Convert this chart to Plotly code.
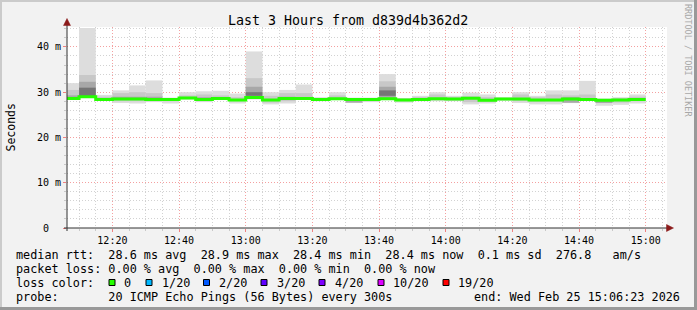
import plotly.graph_objects as go
import pandas as pd
import numpy as np

# ---------------- data ----------------
day = "2026-02-25 "
step_start = ["12:05", "12:10", "12:15", "12:20", "12:25", "12:30", "12:35", "12:40", "12:45",
              "12:50", "12:55", "13:00", "13:05", "13:10", "13:15", "13:20", "13:25", "13:30",
              "13:35", "13:40", "13:45", "13:50", "13:55", "14:00", "14:05", "14:10", "14:15",
              "14:20", "14:25", "14:30", "14:35", "14:40", "14:45", "14:50", "14:55"]

# smoke bands (ms): outermost (min..max) to innermost
band1_hi = [32.0, 44.2, 29.4, 30.4, 31.5, 32.6, 28.8, 30.0, 30.2, 30.3, 29.7, 39.0, 30.0, 30.5, 31.7, 28.9, 30.0, 28.8,
            28.8, 34.0, 28.7, 29.2, 30.0, 29.2, 29.9, 29.5, 28.9, 30.0, 29.2, 30.4, 30.4, 32.5, 28.6, 28.9, 29.5]
band1_lo = [28.3, 28.8, 28.1, 27.6, 27.5, 27.8, 27.5, 28.4, 27.8, 28.4, 27.5, 28.4, 27.3, 27.5, 28.4, 28.0, 28.4, 27.6,
            27.8, 28.4, 27.7, 28.0, 28.0, 28.0, 27.3, 27.5, 28.1, 27.6, 27.3, 27.3, 27.6, 28.4, 27.0, 27.2, 27.5]
band2_hi = [30.5, 33.8, 29.0, 29.8, 30.0, 29.8, 28.7, 29.3, 29.5, 29.3, 28.9, 33.1, 29.2, 29.8, 29.8, 28.7, 29.3, 28.6,
            28.6, 32.4, 28.6, 28.9, 29.5, 28.9, 29.1, 28.9, 28.7, 29.5, 28.9, 29.5, 29.3, 29.5, 28.3, 28.7, 29.0]
band2_lo = [28.4, 28.9, 28.3, 28.0, 28.0, 28.0, 28.0, 28.5, 28.0, 28.5, 28.0, 28.5, 27.7, 28.0, 28.5, 28.2, 28.5, 27.8,
            28.0, 28.5, 28.0, 28.2, 28.3, 28.2, 27.8, 27.9, 28.3, 28.0, 27.8, 27.9, 27.6, 28.5, 27.6, 27.7, 28.0]
band3_hi = [29.3, 32.3, None, 29.0, 29.0, 29.0, None, None, 28.9, None, None, 31.2, None, 29.0, None, None, None, 28.4,
            None, 31.2, None, None, None, None, None, None, None, None, None, None, 28.9, None, 28.0, None, None]
band3_lo = [28.5, 28.9, None, 28.3, 28.3, 28.3, None, None, 28.2, None, None, 28.6, None, 28.3, None, None, None, 27.7,
            None, 28.6, None, None, None, None, None, None, None, None, None, None, 27.7, None, 27.7, None, None]
band4_hi = [None, 31.0, None, None, None, None, None, None, None, None, None, 30.0, None, None, None, None, None, None,
            None, 30.4, None, None, None, None, None, None, None, None, None, None, None, None, None, None, None]
band4_lo = [None, 29.1, None, None, None, None, None, None, None, None, None, 29.2, None, None, None, None, None, None,
            None, 29.2, None, None, None, None, None, None, None, None, None, None, None, None, None, None, None]

median_rtt = [28.6, 29.0, 28.4, 28.5, 28.5, 28.4, 28.4, 28.7, 28.4, 28.6, 28.3, 28.8, 28.3, 28.6, 28.6, 28.4, 28.55, 28.4,
              28.4, 28.55, 28.3, 28.4, 28.55, 28.5, 28.65, 28.2, 28.5, 28.5, 28.3, 28.3, 28.5, 28.4, 28.2, 28.3, 28.4]

x_tick_labels = ["12:20", "12:40", "13:00", "13:20", "13:40", "14:00", "14:20", "14:40", "15:00"]
y_tick_vals = [0, 10, 20, 30, 40]
y_tick_text = ["0\u00a0\u00a0", "10 m", "20 m", "30 m", "40 m"]

loss_labels = ["0", "1/20", "2/20", "3/20", "4/20", "10/20", "19/20"]
loss_colors = ["#26ff00", "#00b8ff", "#0059ff", "#5e00ff", "#7e00ff", "#dd00ff", "#ff0000"]

x_start = day + "12:06:23"
x_end = day + "15:06:23"

# ---------------- figure ----------------
W, H = 697, 310
L, R, T, B = 67, 667, 27, 228   # plot area in pixels
def px(x):
    return (x - L) / (R - L)
def py(y):
    return (B - y) / (B - T)

times = pd.to_datetime([day + t for t in step_start])
STEP_MS = 300000

def arr(v):
    return np.array([np.nan if a is None else a for a in v], dtype=float)

fig = go.Figure()
bands = [(band1_lo, band1_hi, "#dddddd"), (band2_lo, band2_hi, "#c8c8c8"),
         (band3_lo, band3_hi, "#a8a8a8"), (band4_lo, band4_hi, "#767676")]
for lo, hi, col in bands:
    lo_a, hi_a = arr(lo), arr(hi)
    fig.add_trace(go.Bar(x=times, y=hi_a - lo_a, base=lo_a, width=STEP_MS, offset=0,
                         marker=dict(color=col, line=dict(width=0)), hoverinfo="skip",
                         showlegend=False))

line_x = list(times) + [times[-1] + pd.Timedelta(minutes=5)]
line_y = median_rtt + [median_rtt[-1]]
fig.add_trace(go.Scatter(x=line_x, y=line_y, mode="lines", line=dict(color="#26ff00", width=3, shape="hv"),
                         showlegend=False, hoverinfo="skip"))

mono = "DejaVu Sans Mono"
xt_vals = [day + t for t in x_tick_labels]

fig.update_layout(
    width=W, height=H, margin=dict(l=L, r=W - R, t=T, b=H - B, pad=0),
    paper_bgcolor="#f2f2f2", plot_bgcolor="#ffffff",
    barmode="overlay", showlegend=False,
    font=dict(family=mono, size=10, color="#000000"),
    xaxis=dict(type="date", range=[x_start, x_end], tickmode="array", tickvals=xt_vals, ticktext=x_tick_labels,
               showgrid=True, gridcolor="#f4a0a0", griddash="1px,2px", gridwidth=1,
               ticks="outside", ticklen=3, tickcolor="#f08080", zeroline=False, showline=False,
               tickfont=dict(family=mono, size=10, color="#000000"),
               minor=dict(tickmode="linear", tick0=day + "12:00", dtick=STEP_MS, showgrid=True,
                          gridcolor="#d2d2d2", griddash="1px,2px", ticks="outside", ticklen=2, tickcolor="#c8c8c8"),
               fixedrange=True),
    yaxis=dict(range=[0, 44.4], tickmode="array", tickvals=y_tick_vals, ticktext=y_tick_text,
               showgrid=True, gridcolor="#f4a0a0", griddash="1px,2px", gridwidth=1,
               ticks="outside", ticklen=3, tickcolor="#f08080", zeroline=False, showline=False,
               tickfont=dict(family=mono, size=10, color="#000000"),
               minor=dict(tickmode="linear", tick0=0, dtick=2, showgrid=True,
                          gridcolor="#d2d2d2", griddash="1px,2px", ticks="outside", ticklen=2, tickcolor="#c8c8c8"),
               fixedrange=True),
)

shapes = []
# axes lines
shapes.append(dict(type="line", xref="paper", yref="paper", x0=px(64), x1=px(668), y0=0, y1=0,
                   line=dict(color="#303030", width=1)))
shapes.append(dict(type="line", xref="paper", yref="paper", x0=0, x1=0, y0=py(231), y1=py(24),
                   line=dict(color="#303030", width=1)))
# arrow heads
def tri(pts):
    d = "M " + " L ".join(f"{px(a):.5f},{py(b):.5f}" for a, b in pts) + " Z"
    return d
shapes.append(dict(type="path", xref="paper", yref="paper", path=tri([(67, 18.5), (63.5, 25.5), (70.5, 25.5)]),
                   fillcolor="#8b1a1a", line=dict(color="#8b1a1a", width=0.5)))
shapes.append(dict(type="path", xref="paper", yref="paper", path=tri([(673.5, 228), (666.5, 224.5), (666.5, 231.5)]),
                   fillcolor="#8b1a1a", line=dict(color="#8b1a1a", width=0.5)))
# frame (3D border)
shapes.append(dict(type="rect", xref="paper", yref="paper", x0=px(0), x1=px(2), y0=py(310), y1=py(0),
                   fillcolor="#cbcbcb", line=dict(width=0), layer="below"))
shapes.append(dict(type="rect", xref="paper", yref="paper", x0=px(0), x1=px(697), y0=py(2), y1=py(0),
                   fillcolor="#cbcbcb", line=dict(width=0), layer="below"))
shapes.append(dict(type="rect", xref="paper", yref="paper", x0=px(694), x1=px(697), y0=py(310), y1=py(0),
                   fillcolor="#999999", line=dict(width=0), layer="below"))
shapes.append(dict(type="rect", xref="paper", yref="paper", x0=px(0), x1=px(697), y0=py(310), y1=py(307),
                   fillcolor="#999999", line=dict(width=0), layer="below"))
# loss colour swatches
box_x = [109, 146, 203.5, 261, 319, 378, 443]
for bx, col in zip(box_x, loss_colors):
    shapes.append(dict(type="rect", xref="paper", yref="paper", x0=px(bx), x1=px(bx + 6), y0=py(285.5), y1=py(279.5),
                       fillcolor=col, line=dict(color="#000000", width=1)))
fig.update_layout(shapes=shapes)

ann = []
def text(x, y, s, size=11.8, anchor="left", color="#000000", angle=0):
    ann.append(dict(xref="paper", yref="paper", x=px(x), y=py(y), text=s.replace(" ", "\u00a0"),
                    showarrow=False, xanchor=anchor, yanchor="middle", textangle=angle,
                    font=dict(family=mono, size=size, color=color), borderpad=0))

text(348, 20, "Last 3 Hours from d839d4b362d2", size=13.3, anchor="center")
text(10.5, 128, "Seconds", size=11.5, anchor="center", angle=-90)
text(688, 60, "RRDTOOL / TOBI OETIKER", size=8.5, anchor="center", color="#a8a8a8", angle=90)

text(15, 254.5, "median rtt:  28.6 ms avg  28.9 ms max  28.4 ms min  28.4 ms now  0.1 ms sd  276.8   am/s")
text(15, 268.5, "packet loss: 0.00 % avg  0.00 % max  0.00 % min  0.00 % now")
text(15, 282.5, "loss color:")
loss_text_x = [122.5, 160.5, 217.5, 275.5, 333.5, 392, 456.5]
for lx, lab in zip(loss_text_x, loss_labels):
    text(lx, 282.5, lab)
text(15, 296.5, "probe:       20 ICMP Echo Pings (56 Bytes) every 300s")
text(681, 296.5, "end: Wed Feb 25 15:06:23 2026", anchor="right")
fig.update_layout(annotations=ann)

fig.write_html("out.html")
